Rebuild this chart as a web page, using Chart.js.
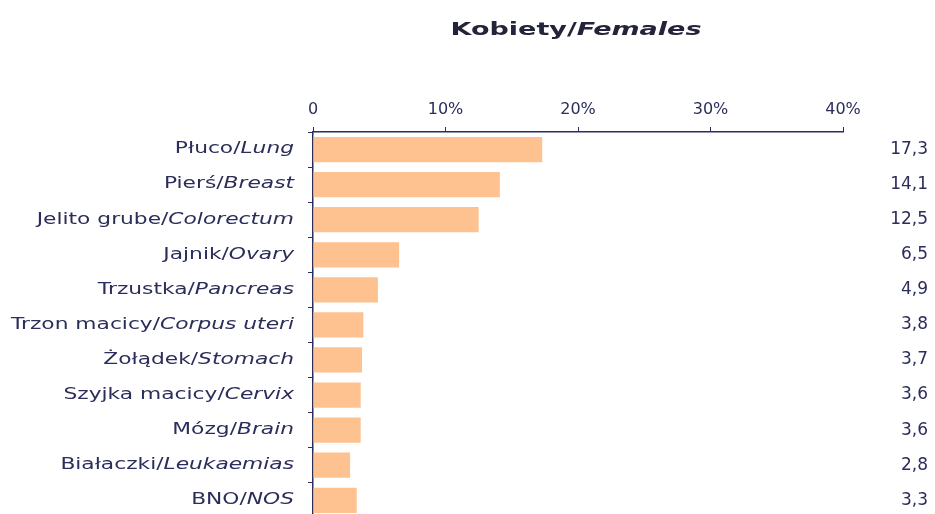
<!DOCTYPE html>
<html>
<head>
<meta charset="utf-8">
<script src="https://cdn.jsdelivr.net/npm/chart.js@4/dist/chart.umd.min.js"></script>
<style>
    html, body { margin: 0; padding: 0; background: #fff; overflow: hidden; }
    #wrap { position: relative; width: 935px; height: 531px; }
</style>
</head>
<body>
<div id="wrap"><canvas id="chart"></canvas></div>
<script>
const titlePl = 'Kobiety/';
const titleEn = 'Females';
const sitesPl = ['Płuco/', 'Pierś/', 'Jelito grube/', 'Jajnik/', 'Trzustka/', 'Trzon macicy/',
    'Żołądek/', 'Szyjka macicy/', 'Mózg/', 'Białaczki/', 'BNO/'];
const sitesEn = ['Lung', 'Breast', 'Colorectum', 'Ovary', 'Pancreas', 'Corpus uteri',
    'Stomach', 'Cervix', 'Brain', 'Leukaemias', 'NOS'];
const percents = [17.3, 14.1, 12.5, 6.5, 4.9, 3.8, 3.7, 3.6, 3.6, 2.8, 3.3];
const axisMax = 40;
const axisStep = 10;

const textColor = '#2b2d5a';
const titleColor = '#23233a';
const barColor = '#fdc290';
const stretch = 1.45;

const valueLabels = percents.map(v => v.toFixed(1).replace('.', ','));

// draws the mixed regular/italic labels and the title
const labelPlugin = {
    id: 'mixedLabels',
    afterDraw(chart) {
        const ctx = chart.ctx;
        const yScale = chart.scales.y;
        const area = chart.chartArea;
        ctx.save();
        ctx.fillStyle = textColor;
        ctx.textBaseline = 'middle';
        ctx.textAlign = 'left';

        sitesPl.forEach((pl, i) => {
            const y = yScale.getPixelForValue(i);
            ctx.save();
            ctx.translate(area.left - 19, y);
            ctx.scale(stretch, 1);
            ctx.font = 'italic 15px "DejaVu Sans"';
            const enW = ctx.measureText(sitesEn[i]).width;
            ctx.fillText(sitesEn[i], -enW, 0);
            ctx.font = '15px "DejaVu Sans"';
            const plW = ctx.measureText(pl).width;
            ctx.fillText(pl, -enW - plW, 0);
            ctx.restore();
        });

        ctx.fillStyle = titleColor;
        ctx.save();
        ctx.translate((area.left + area.right) / 2 - 2, 30);
        ctx.scale(1.5, 1);
        ctx.font = 'bold 18px "DejaVu Sans"';
        const w1 = ctx.measureText(titlePl).width;
        ctx.font = 'bold italic 18px "DejaVu Sans"';
        const w2 = ctx.measureText(titleEn).width;
        const start = -(w1 + w2) / 2;
        ctx.font = 'bold 18px "DejaVu Sans"';
        ctx.fillText(titlePl, start, 0);
        ctx.font = 'bold italic 18px "DejaVu Sans"';
        ctx.fillText(titleEn, start + w1, 0);
        ctx.restore();

        ctx.restore();
    }
};

new Chart(document.getElementById('chart'), {
    type: 'bar',
    data: {
        labels: sitesEn,
        datasets: [{
            data: percents,
            backgroundColor: barColor,
            borderWidth: 0,
            categoryPercentage: 0.72,
            barPercentage: 1
        }]
    },
    options: {
        indexAxis: 'y',
        responsive: true,
        maintainAspectRatio: false,
        animation: false,
        layout: { padding: { top: 0, right: 7, bottom: 2, left: 0 } },
        plugins: {
            legend: { display: false },
            tooltip: { enabled: false }
        },
        scales: {
            x: {
                position: 'top',
                min: 0,
                max: axisMax,
                afterFit(scale) { scale.height = 132; },
                ticks: {
                    stepSize: axisStep,
                    color: textColor,
                    padding: 8,
                    font: { family: 'DejaVu Sans', size: 16 },
                    callback: v => v === 0 ? '0' : v + '%'
                },
                grid: { drawOnChartArea: false, tickLength: 5, color: textColor, lineWidth: 1 },
                border: { color: textColor, width: 1.5 }
            },
            y: {
                position: 'left',
                afterFit(scale) { scale.width = 313; },
                ticks: { display: false },
                grid: { offset: true, drawOnChartArea: false, tickLength: 5, color: textColor },
                border: { color: textColor, width: 1.5 }
            },
            y2: {
                type: 'category',
                position: 'right',
                labels: valueLabels,
                offset: true,
                afterFit(scale) { scale.width = 85; },
                ticks: {
                    crossAlign: 'far',
                    color: textColor,
                    font: { family: 'DejaVu Sans', size: 17 }
                },
                grid: { display: false },
                border: { display: false }
            }
        }
    },
    plugins: [labelPlugin]
});
</script>
</body>
</html>
